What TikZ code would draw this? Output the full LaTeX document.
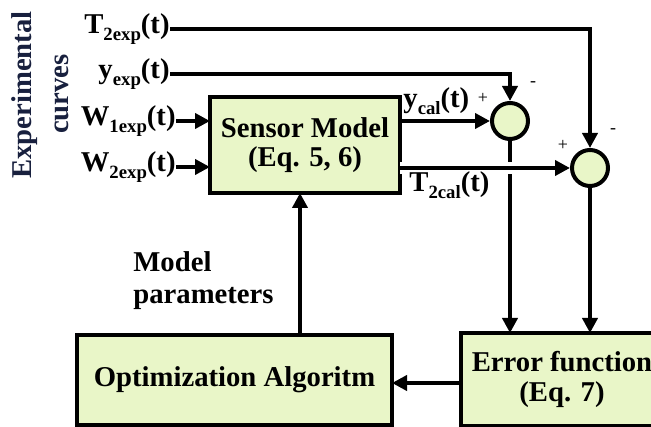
\documentclass[tikz,border=0pt]{standalone}
\usepackage{fontspec}
\setmainfont{Liberation Serif}
\usetikzlibrary{arrows.meta}
\definecolor{boxfill}{RGB}{233,246,200}
\definecolor{labelnavy}{RGB}{24,32,62}
% lowered, reduced-size index for signal names
\newcommand{\lowidx}[1]{\raisebox{-3.2bp}{\fontsize{9.4}{10}\selectfont #1}}

\begin{document}
\begin{tikzpicture}[x=0.5bp,y=-0.5bp,
  every node/.style={font=\fontsize{14.4}{14.5}\selectfont\bfseries, inner sep=0pt},
  block/.style={draw, line width=2.2bp, fill=boxfill, align=center},
  sumnode/.style={circle, draw, line width=2bp, fill=boxfill, minimum size=18bp},
  wire/.style={line width=2bp},
  flow/.style={wire, -{Triangle[length=7.5bp,width=7.5bp]}},
  sign/.style={font=\fontsize{9}{10}\selectfont}
]
\useasboundingbox (0,0) rectangle (651,427);

% side caption
\node[rotate=90, text=labelnavy] (capA) at (25,95) {Experimental};
\node[rotate=90, text=labelnavy] (capB) at (62,94) {curves};

% input signals
\node[anchor=east] (t2exp) at (170,29) {T\lowidx{2exp}(t)};
\node[anchor=east] (yexp)  at (170,74) {y\lowidx{exp}(t)};
\node[anchor=east] (w1exp) at (176,121) {W\lowidx{1exp}(t)};
\node[anchor=east] (w2exp) at (176,167) {W\lowidx{2exp}(t)};

% blocks
\node[block, minimum width=95bp, minimum height=48bp] (sensor) at (305,145)
  {Sensor Model\\(Eq. 5, 6)};
\node[block, minimum width=157.5bp, minimum height=45bp] (optim) at (234.5,380)
  {Optimization Algoritm};
\node[block, minimum width=101bp, minimum height=46.5bp,
      font=\fontsize{14.4}{15.5}\selectfont\bfseries] (errf) at (562,379.5)
  {Error function\\(Eq. 7)};

% summing junctions
\node[sumnode] (s1) at (510,121) {};
\node[sumnode] (s2) at (590,168) {};

% anchor points on block sides
\coordinate (sensorY) at (400,121);
\coordinate (sensorT) at (400,168);
\coordinate (sensorIn1) at (210,121);
\coordinate (sensorIn2) at (210,167);
\coordinate (errL) at (461,383);
\coordinate (optR) at (392,383);
\coordinate (optT) at (300,335);
\coordinate (sensorB) at (300,193);
\coordinate (s1Down) at (510,333);
\coordinate (s2Down) at (590,333);

% connectors
\draw[flow] (t2exp.east) -| (s2.north);
\draw[flow] (yexp.east) -| (s1.north);
\draw[flow] (w1exp.east) -- (sensorIn1);
\draw[flow] (w2exp.east) -- (sensorIn2);
\draw[flow] (sensorY) -- (s1.west);
\draw[flow] (s1.south) -- (s1Down);
\draw[flow, preaction={draw=white, line width=6bp, -}] (sensorT) -- (s2.west);
\draw[flow] (s2.south) -- (s2Down);
\draw[flow] (errL) -- (optR);
\draw[flow] (optT) -- (sensorB);

% signal labels
\node[anchor=west] (ycal) at (403,101) {y\lowidx{cal}(t)};
\node[anchor=west] (t2cal) at (409,185) {T\lowidx{2cal}(t)};
\node[sign] (p1) at (483,98) {+};
\node[sign] (m1) at (533,84) {-};
\node[sign] (p2) at (563,145) {+};
\node[sign] (m2) at (613,131) {-};

% feedback label
\node[anchor=west, align=left, font=\fontsize{14.4}{16}\selectfont\bfseries] (mparam) at (133,281)
  {Model\\parameters};
\end{tikzpicture}
\end{document}
